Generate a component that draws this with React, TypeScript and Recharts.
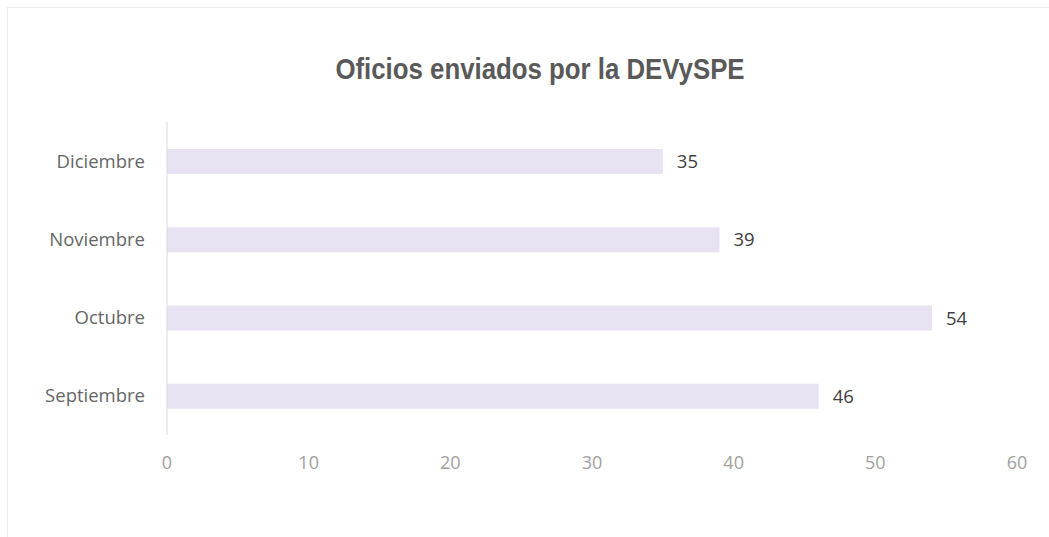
import { BarChart, Bar, XAxis, YAxis, LabelList } from "recharts";

const MONTHS = ["Diciembre", "Noviembre", "Octubre", "Septiembre"];
const OFICIOS = [35, 39, 54, 46];
const X_TICKS = [0, 10, 20, 30, 40, 50, 60];

const data = MONTHS.map((month, i) => ({ month, value: OFICIOS[i] }));

const FONT = "'Open Sans', sans-serif";

export default function App() {
  return (
    <div
      style={{
        position: "absolute",
        left: 0,
        top: 0,
        width: 1049,
        height: 537,
        background: "#fff",
        overflow: "hidden",
      }}
    >
      <div
        style={{
          position: "absolute",
          left: 7,
          top: 7,
          width: 1060,
          height: 540,
          border: "1px solid #ececec",
        }}
      />
      <div
        style={{
          position: "absolute",
          top: 52,
          left: 0,
          width: 1080,
          textAlign: "center",
          fontFamily: "'Liberation Sans', sans-serif",
          fontWeight: 700,
          fontSize: 30,
          color: "#595959",
          transform: "scaleX(0.86)",
          transformOrigin: "540px 0",
        }}
      >
        Oficios enviados por la DEVySPE
      </div>
      <BarChart
        width={1049}
        height={537}
        data={data}
        layout="vertical"
        margin={{ top: 122, right: 32, bottom: 72, left: 0 }}
        style={{ position: "absolute", left: 0, top: 0 }}
      >
        <XAxis
          type="number"
          domain={[0, 60]}
          ticks={X_TICKS}
          axisLine={false}
          tickLine={false}
          tickMargin={15}
          height={30}
          tick={{ fill: "#a0a0a0", fontSize: 18, fontFamily: FONT }}
        />
        <YAxis
          type="category"
          dataKey="month"
          width={167}
          axisLine={{ stroke: "#d9d9d9" }}
          tickLine={false}
          tickMargin={16}
          tick={{ fill: "#666666", fontSize: 18.5, fontFamily: FONT }}
        />
        <Bar dataKey="value" fill="#e8e2f3" barSize={25} isAnimationActive={false}>
          <LabelList
            dataKey="value"
            position="right"
            offset={14}
            style={{ fill: "#404040", fontSize: 18.5, fontFamily: FONT }}
          />
        </Bar>
      </BarChart>
    </div>
  );
}
